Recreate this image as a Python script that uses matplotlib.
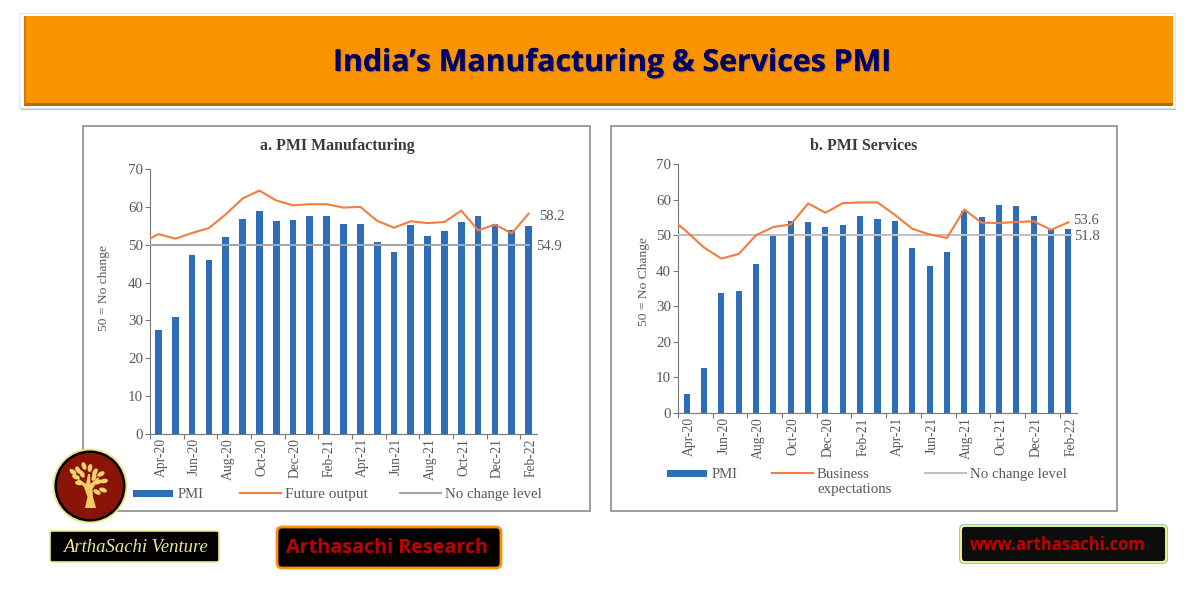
import numpy as np
import matplotlib
matplotlib.use('Agg')
import matplotlib.pyplot as plt
from matplotlib.patches import Rectangle, FancyBboxPatch, Circle, Ellipse, Polygon
from matplotlib.transforms import ScaledTranslation
import matplotlib.patheffects as pe

months = ['Apr-20', 'May-20', 'Jun-20', 'Jul-20', 'Aug-20', 'Sep-20', 'Oct-20', 'Nov-20',
          'Dec-20', 'Jan-21', 'Feb-21', 'Mar-21', 'Apr-21', 'May-21', 'Jun-21', 'Jul-21',
          'Aug-21', 'Sep-21', 'Oct-21', 'Nov-21', 'Dec-21', 'Jan-22', 'Feb-22']
yticks = [0, 10, 20, 30, 40, 50, 60, 70]

mfg_pmi = [27.4, 30.8, 47.2, 46.0, 52.0, 56.8, 58.9, 56.3, 56.4, 57.7, 57.5, 55.4,
           55.5, 50.8, 48.1, 55.3, 52.3, 53.7, 55.9, 57.6, 55.5, 54.0, 54.9]
# first value is the month before Apr-20, it gets clipped at the axis
mfg_future = [50.4, 52.8, 51.6, 53.1, 54.4, 58.0, 62.2, 64.3, 61.7, 60.4, 60.7, 60.7,
              59.8, 60.0, 56.3, 54.5, 56.2, 55.7, 56.0, 59.0, 53.8, 55.3, 53.0, 58.2]

svc_pmi = [5.4, 12.6, 33.7, 34.2, 41.8, 49.8, 54.1, 53.7, 52.3, 52.8, 55.3, 54.6,
           54.0, 46.4, 41.2, 45.4, 56.7, 55.2, 58.4, 58.1, 55.5, 51.5, 51.8]
svc_business = [55.0, 51.0, 46.5, 43.4, 44.7, 50.0, 52.3, 53.0, 58.9, 56.3, 59.0, 59.2,
                59.2, 55.7, 51.8, 50.2, 49.2, 57.2, 53.5, 53.4, 53.7, 53.9, 51.5, 53.6]

W, H = 1201, 601
BLUE = '#2E6DB8'
ORANGE = '#F47C3C'
TXT = '#58595B'
SERIF = 'Liberation Serif'

fig = plt.figure(figsize=(W / 100, H / 100), dpi=100, facecolor='white')

# pixel canvas for the slide furniture
bg = fig.add_axes([0, 0, 1, 1], zorder=0)
bg.set_xlim(0, W)
bg.set_ylim(H, 0)
bg.axis('off')


def rect(x0, y0, x1, y1, **kw):
    bg.add_patch(Rectangle((x0, y0), x1 - x0, y1 - y0, **kw))


def rbox(x0, y0, x1, y1, r, **kw):
    bg.add_patch(FancyBboxPatch((x0 + r, y0 + r), x1 - x0 - 2 * r, y1 - y0 - 2 * r,
                                boxstyle='round,pad=%g,rounding_size=%g' % (r, r), **kw))


# header
rect(21, 16, 1176, 110, fc='#BDBDBD', ec='none')
rect(19, 13, 1175, 108, fc='white', ec='#E4E4E4', lw=0.8)
rect(24, 16, 1173, 105, fc='#F99400', ec='none')
rect(24, 102.5, 1173, 105.5, fc='#B36D08', ec='none')
rect(24, 16, 26, 105, fc='#C97A08', ec='none')
bg.text(612, 63, 'India\u2019s Manufacturing & Services PMI', ha='center', va='center',
        family='Open Sans', weight='bold', size=21.8, color='#000066',
        path_effects=[pe.withSimplePatchShadow(offset=(0.8, -0.8), shadow_rgbFace='#333333', alpha=0.35),
                      pe.Normal()])

# panel frames
for x0, x1 in [(83, 590), (611, 1117)]:
    rect(x0, 126, x1, 511, fc='white', ec='#8C8C8C', lw=1.2)


def panel(box, pmi, line, bar_width, title, title_x, ylabel, ylabel_x, ylabel_y, hline_end, hline_color):
    left, top, right, bottom = box
    ax = fig.add_axes([left / W, 1 - bottom / H, (right - left) / W, (bottom - top) / H], zorder=1)
    ax.set_facecolor('none')
    x = np.arange(len(months))
    ax.bar(x, pmi, width=bar_width, color=BLUE, zorder=2)
    ax.hlines(50, -0.5, hline_end, color=hline_color, lw=1.5, zorder=3)
    ax.plot(np.arange(-1, len(months)), line, color=ORANGE, lw=1.5, zorder=4)
    ax.set_xlim(-0.5, len(months) - 0.5)
    ax.set_ylim(0, 70)
    ax.set_yticks(yticks)
    ax.tick_params(axis='y', labelsize=10.8, labelcolor=TXT, color='#777777', length=3.5, width=0.8, pad=1.5)
    # ticks sit between the months, labels under the month
    ax.set_xticks(np.arange(-0.5, len(months), 2))
    ax.set_xticklabels([])
    ax.set_xticks(x[::2], [months[i] for i in x[::2]], minor=True, rotation=90)
    ax.tick_params(axis='x', which='major', color='#777777', length=3.5, width=0.8)
    ax.tick_params(axis='x', which='minor', length=0, labelsize=9.8, labelcolor=TXT, pad=3)
    for s in ['top', 'right']:
        ax.spines[s].set_visible(False)
    for s in ['left', 'bottom']:
        ax.spines[s].set_color('#777777')
        ax.spines[s].set_linewidth(0.8)
    for lab in ax.get_yticklabels():
        lab.set_family(SERIF)
    nudge = ScaledTranslation(2.5 / 100, 0, fig.dpi_scale_trans)
    for lab in ax.get_xminorticklabels():
        lab.set_family(SERIF)
        lab.set_transform(lab.get_transform() + nudge)
    bg.text(title_x, 145.5, title, ha='center', va='center', family=SERIF, weight='bold',
            size=11.4, color='#3A3A3A')
    bg.text(ylabel_x, ylabel_y, ylabel, rotation=90, ha='center', va='center', family=SERIF,
            size=9.7, color=TXT)


panel((150, 169, 537, 434), mfg_pmi, mfg_future, 0.4, 'a. PMI Manufacturing', 337,
      '50 = No change', 104, 288, 22.1, '#A6A6A6')
panel((678, 164, 1077, 413), svc_pmi, svc_business, 0.35, 'b. PMI Services', 864,
      '50 = No Change', 644, 282, 22.2, '#C0C0C0')

# end labels
for tx, ty, s in [(539, 216.5, '58.2'), (536, 246, '54.9'), (1073, 220.5, '53.6'), (1074, 237, '51.8')]:
    bg.text(tx, ty, s, ha='left', va='center', family=SERIF, size=10.5, color=TXT)


def legend_row(y, bar_x, line1_x, line1_label, line2_x, line2_color):
    rect(bar_x, y - 3.5, bar_x + 40, y + 3.5, fc=BLUE, ec='none')
    bg.text(bar_x + 45, y + 1.5, 'PMI', va='center', family=SERIF, size=10.6, color=TXT)
    bg.plot([line1_x, line1_x + 41], [y, y], color=ORANGE, lw=1.5)
    if '\n' in line1_label:
        bg.text(line1_x + 45, y - 5.5, line1_label, va='top', family=SERIF, size=10.7, color=TXT,
                linespacing=1.2)
    else:
        bg.text(line1_x + 45, y + 1.5, line1_label, va='center', family=SERIF, size=11, color=TXT)
    bg.plot([line2_x, line2_x + 41], [y, y], color=line2_color, lw=1.5)
    bg.text(line2_x + 45, y + 1.5, 'No change level', va='center', family=SERIF, size=10.7, color=TXT)


legend_row(493, 133, 240, 'Future output', 400, '#A6A6A6')
legend_row(473, 667, 772, 'Business\nexpectations', 925, '#C0C0C0')

# logo
bg.add_patch(Circle((90, 486), 37.5, fc='#E9E58C', ec='none', zorder=5))
bg.add_patch(Circle((90, 486), 35.5, fc='black', ec='none', zorder=5))
bg.add_patch(Circle((90, 486), 33, fc='#8B1409', ec='none', zorder=5))
bg.add_patch(Polygon([(85, 508), (87.5, 497), (84, 487), (77, 480), (79, 479), (86, 484), (88, 474),
                      (90, 474), (90.5, 484), (98, 477), (99, 479), (92.5, 489), (93, 497), (96, 508)],
                     fc='#F0CC62', ec='none', zorder=6))
for lx, ly, ang in [(73, 472, 40), (78, 470, 60), (84, 466, 70), (90, 468, 100), (76, 477, 20),
                    (82, 474, 60), (95, 472, 120), (101, 474, 150), (104, 481, 170), (98, 482, 160),
                    (103, 490, 20), (97, 492, 30), (79, 483, 10), (94, 477, 110)]:
    bg.add_patch(Ellipse((lx, ly), 8, 4.5, angle=ang, fc='#F3D36E', ec='none', zorder=6))

# badges
rbox(50, 531, 219, 562, 2, fc='black', ec='#EDE78A', lw=1.2)
bg.text(135, 547, 'ArthaSachi Venture', ha='center', va='center', family=SERIF, style='italic',
        size=13.4, color='#EDE78A')

rbox(277, 527, 501, 568, 5, fc='black', ec='#FF9000', lw=2)
bg.text(387, 548, 'Arthasachi Research', ha='center', va='center', family='Open Sans', weight='bold',
        size=14.2, color='#C00000')

rbox(959, 524, 1168, 564, 5, fc='#9CC9D0', ec='none')
rbox(961, 526, 1166, 562, 4, fc='#0D0D0D', ec='#F4F08C', lw=1.4)
bg.text(970, 545, 'www.arthasachi.com', ha='left', va='center', family='Open Sans', weight='bold',
        size=12, color='#C00000')

fig.savefig('out.png', dpi=100)
